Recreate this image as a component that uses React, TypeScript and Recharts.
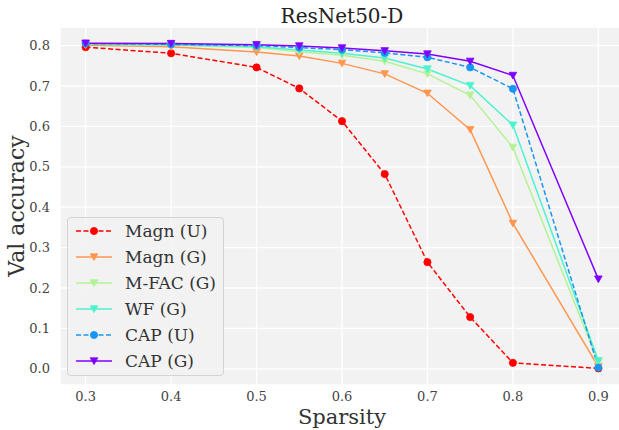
import { LineChart, Line, XAxis, YAxis, CartesianGrid, Legend } from "recharts";

const sparsity = [0.3, 0.4, 0.5, 0.55, 0.6, 0.65, 0.7, 0.75, 0.8, 0.9];
const magnU = [0.796, 0.781, 0.746, 0.694, 0.613, 0.482, 0.264, 0.128, 0.015, 0.001];
const magnG = [0.801, 0.797, 0.784, 0.774, 0.756, 0.73, 0.682, 0.592, 0.36, 0.005];
const mfacG = [0.803, 0.801, 0.795, 0.785, 0.776, 0.761, 0.73, 0.677, 0.548, 0.015];
const wfG = [0.804, 0.802, 0.797, 0.789, 0.781, 0.769, 0.742, 0.701, 0.603, 0.02];
const capU = [0.805, 0.803, 0.8, 0.795, 0.79, 0.782, 0.771, 0.746, 0.693, 0.003];
const capG = [0.806, 0.805, 0.802, 0.799, 0.794, 0.787, 0.779, 0.761, 0.726, 0.222];

const xTicks = [0.3, 0.4, 0.5, 0.6, 0.7, 0.8, 0.9];
const yTicks = [0, 0.1, 0.2, 0.3, 0.4, 0.5, 0.6, 0.7, 0.8];

const FONT = "'DejaVu Serif', serif";

type Series = { key: string; name: string; color: string; dashed: boolean; marker: "o" | "v" };

const series: Series[] = [
  { key: "magnU", name: "Magn (U)", color: "#ff0000", dashed: true, marker: "o" },
  { key: "magnG", name: "Magn (G)", color: "#ff964f", dashed: false, marker: "v" },
  { key: "mfacG", name: "M-FAC (G)", color: "#b3f396", dashed: false, marker: "v" },
  { key: "wfG", name: "WF (G)", color: "#4df3ce", dashed: false, marker: "v" },
  { key: "capU", name: "CAP (U)", color: "#1996f3", dashed: true, marker: "o" },
  { key: "capG", name: "CAP (G)", color: "#8000ff", dashed: false, marker: "v" },
];

const data = sparsity.map((s, i) => ({
  s,
  magnU: magnU[i],
  magnG: magnG[i],
  mfacG: mfacG[i],
  wfG: wfG[i],
  capU: capU[i],
  capG: capG[i],
}));

function Marker({ cx, cy, color, marker }: any) {
  if (marker === "o") {
    return <circle cx={cx} cy={cy} r={3.6} fill={color} stroke={color} strokeWidth={0.8} />;
  }
  const w = 3.8;
  return (
    <polygon
      points={`${cx - w},${cy - 3.2} ${cx + w},${cy - 3.2} ${cx},${cy + 3.6}`}
      fill={color}
      stroke={color}
      strokeWidth={0.8}
      strokeLinejoin="miter"
    />
  );
}

function renderDot(s: Series) {
  return (props: any) => (
    <Marker key={`${s.key}-${props.index}`} cx={props.cx} cy={props.cy} color={s.color} marker={s.marker} />
  );
}

function CustomLegend() {
  return (
    <div
      style={{
        width: 157,
        height: 159,
        background: "rgba(242,242,242,0.85)",
        border: "1px solid #d4d4d4",
        borderRadius: 4,
        boxSizing: "border-box",
        position: "relative",
        fontFamily: FONT,
      }}
    >
      <svg width={157} height={159} style={{ position: "absolute", left: 0, top: 0 }}>
        {series.map((s, i) => {
          const y = 13 + i * 26;
          return (
            <g key={s.key}>
              <line
                x1={8}
                x2={44}
                y1={y}
                y2={y}
                stroke={s.color}
                strokeWidth={1.5}
                strokeDasharray={s.dashed ? "5 2.5" : undefined}
              />
              <Marker cx={26} cy={y} color={s.color} marker={s.marker} />
              <text x={57} y={y + 6} fontSize={17} fill="#333" fontFamily={FONT}>
                {s.name}
              </text>
            </g>
          );
        })}
      </svg>
    </div>
  );
}

export default function App() {
  return (
    <div
      style={{
        position: "absolute",
        left: 0,
        top: 0,
        width: 619,
        height: 430,
        overflow: "hidden",
        background: "#fff",
      }}
    >
      <LineChart
        width={640}
        height={430}
        data={data}
        margin={{ top: 27, right: 16, bottom: 0, left: 0 }}
        style={{ fontFamily: FONT }}
      >
        <CartesianGrid fill="#f2f2f2" stroke="#ffffff" strokeWidth={1.3} />
        <XAxis
          dataKey="s"
          type="number"
          domain={[0.27, 0.93]}
          ticks={xTicks}
          allowDataOverflow
          axisLine={false}
          tickLine={false}
          tickSize={6}
          tickMargin={1}
          height={45}
          tick={{ fontSize: 13, fill: "#444", fontFamily: FONT }}
          tickFormatter={(v: number) => v.toFixed(1)}
          label={{
            content: ({ viewBox }: any) => (
              <text
                x={viewBox.x + viewBox.width / 2}
                y={424}
                textAnchor="middle"
                fontSize={21}
                fill="#333"
                fontFamily={FONT}
              >
                Sparsity
              </text>
            ),
          }}
        />
        <YAxis
          type="number"
          domain={[-0.04, 0.846]}
          ticks={yTicks}
          allowDataOverflow
          axisLine={false}
          tickLine={false}
          tickSize={8}
          tickMargin={2}
          width={60}
          tick={{ fontSize: 13, fill: "#444", fontFamily: FONT }}
          tickFormatter={(v: number) => v.toFixed(1)}
          label={{
            content: ({ viewBox }: any) => {
              const cy = viewBox.y + viewBox.height / 2;
              return (
                <text
                  x={24}
                  y={cy}
                  transform={`rotate(-90, 24, ${cy})`}
                  textAnchor="middle"
                  fontSize={22}
                  fill="#333"
                  fontFamily={FONT}
                >
                  Val accuracy
                </text>
              );
            },
          }}
        />
        {series.map((s) => (
          <Line
            key={s.key}
            dataKey={s.key}
            name={s.name}
            type="linear"
            stroke={s.color}
            strokeWidth={1.5}
            strokeDasharray={s.dashed ? "5 2.5" : undefined}
            dot={renderDot(s)}
            activeDot={false}
            isAnimationActive={false}
          />
        ))}
        <Legend
          layout="horizontal"
          verticalAlign="middle"
          align="center"
          content={<CustomLegend />}
          wrapperStyle={{ left: 67, top: 217, width: 157, height: 159 }}
        />
        <text x={342} y={23} textAnchor="middle" fontSize={20} fill="#222" fontFamily={FONT}>
          ResNet50-D
        </text>
      </LineChart>
    </div>
  );
}
